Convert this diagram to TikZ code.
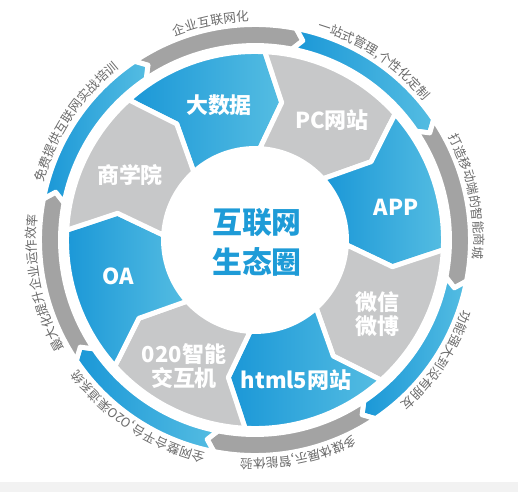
\documentclass[tikz,border=0pt]{standalone}
\usepackage{fontspec}
\usepackage{tikz}
\usetikzlibrary{decorations.text}
\newfontfamily\cjk{Noto Sans CJK SC}
\definecolor{blueD}{HTML}{1A97D7}
\definecolor{blueL}{HTML}{55BDE2}
\definecolor{grayIn}{HTML}{C7C8C9}
\definecolor{grayOut}{HTML}{A3A3A3}
\definecolor{txtgray}{HTML}{6A6A6A}
\definecolor{hubblue}{HTML}{1E9BD7}
\tikzstyle{blueseg}=[left color=blueD, right color=blueL, draw=white, line width=2.8pt, line join=round]
\tikzstyle{grayseg}=[fill=grayIn, draw=white, line width=2.8pt, line join=round]
\tikzstyle{ringgray}=[fill=grayOut, draw=white, line width=2.8pt, line join=round]
\tikzstyle{lbl}=[text=white, align=center, font=\cjk\bfseries\fontsize{12.5}{14}\selectfont]
\tikzstyle{hub}=[text=hubblue, align=center, font=\cjk\bfseries\fontsize{17}{22.7}\selectfont]
\newcommand{\outerfont}{\color{txtgray}\cjk\fontsize{7.2}{8}\selectfont}
\newcommand{\ringlabel}[2]{%
  \path[decorate, decoration={text along path, text align=center, text={|\outerfont|#2}}]
    ({#1+22.5}:219) arc[start angle=#1+22.5, end angle=#1-22.5, radius=219];}

\begin{document}
\begin{tikzpicture}[scale=0.02]
    \useasboundingbox (-255,-252) rectangle (263,240);
    \fill[black!5] (-255,-252) rectangle (263,-242);
    % inner ring
    \foreach \a/\s in {132/blueseg, 87/grayseg, 42/blueseg, -3/grayseg, -48/blueseg, -93/grayseg, -138/blueseg, -183/grayseg}
        \path[\s] (\a:188.5) arc[start angle=\a, end angle=\a-45, radius=188.5] -- ({\a-53}:140)
            -- ({\a-45}:91.5) arc[start angle=\a-45, end angle=\a, radius=91.5] -- ({\a-8}:140) -- cycle;
    % outer ring
    \foreach \a/\s in {124/ringgray, 79/blueseg, 34/ringgray, -11/blueseg, -56/ringgray, -101/blueseg, -146/ringgray, -191/blueseg}
        \path[\s] (\a:215.5) arc[start angle=\a, end angle=\a-45, radius=215.5] -- ({\a-47.5}:205)
            -- ({\a-45}:194.5) arc[start angle=\a-45, end angle=\a, radius=194.5] -- ({\a-2.5}:205) -- cycle;
    \node[hub] (hub) at (2,-2) {互联网\\生态圈};
    \node[lbl] (bigdata) at (-36,135) {大数据};
    \node[lbl] (pcsite) at (77,120) {PC网站};
    \node[lbl] (app) at (141,33) {APP};
    \node[lbl] (wechat) at (122,-74) {微信\\微博};
    \node[lbl] (html) at (41,-140) {html5网站};
    \node[lbl] (kiosk) at (-71,-126) {020智能\\交互机};
    \node[lbl] (oa) at (-137,-36) {OA};
    \node[lbl] (school) at (-125,65) {商学院};
    \ringlabel{101.5}{企业互联网化}
    \ringlabel{56.5}{一站式管理,个性化定制}
    \ringlabel{11.5}{打造移动端的智能商城}
    \ringlabel{-33.5}{功能强大到没有朋友}
    \ringlabel{-78.5}{多媒体展示,智能体验}
    \ringlabel{-123.5}{全网整合平台,O2O渠道系统}
    \ringlabel{-168.5}{最大化提升企业运作效率}
    \ringlabel{146.5}{免费提供互联网实战培训}
\end{tikzpicture}
\end{document}
